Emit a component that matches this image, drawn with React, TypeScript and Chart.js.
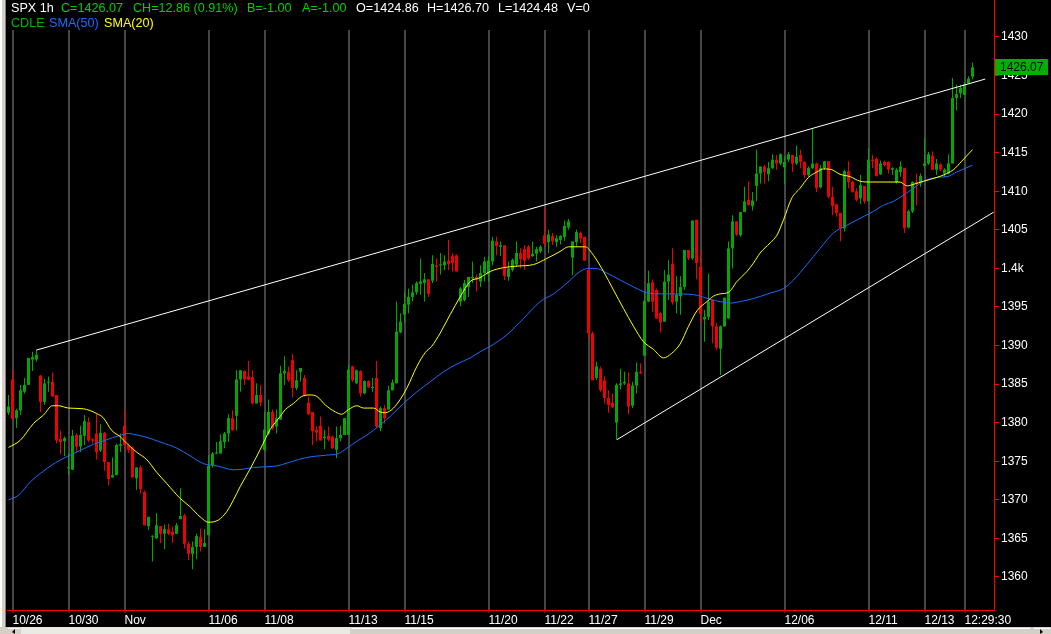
import { useEffect, useRef } from 'react';
import { Chart, registerables } from 'chart.js';

Chart.register(...registerables);

// ---------- DATA ----------
const symbol = 'SPX 1h';
const changeValue = 12.86;
const changePct = 0.91;
const bidValue = -1.0;
const askValue = -1.0;
const volumeValue = 0;

const opens = [
  1381.3, 1385.6, 1380.6, 1381.6, 1384.0, 1384.9, 1388.2, 1388.2, 1386.1, 1382.7,
  1385.2, 1385.3, 1383.6, 1377.9, 1377.6, 1374.1, 1373.9, 1378.4, 1376.9, 1378.3,
  1380.1, 1377.8, 1378.6, 1376.4, 1378.7, 1374.9, 1372.9, 1373.2, 1377.0, 1379.6,
  1377.1, 1376.8, 1372.8, 1374.2, 1371.0, 1366.6, 1365.2, 1365.0, 1366.6, 1365.6,
  1366.2, 1365.9, 1365.6, 1367.5, 1368.0, 1364.3, 1363.0, 1363.9, 1365.2, 1363.9,
  1365.4, 1374.5, 1376.0, 1376.0, 1377.5, 1378.6, 1380.6, 1380.9, 1385.6, 1386.7,
  1386.0, 1385.9, 1382.5, 1383.6, 1376.5, 1378.6, 1381.4, 1379.5, 1380.4, 1386.4,
  1386.6, 1388.1, 1384.5, 1386.6, 1385.8, 1382.6, 1381.4, 1379.1, 1379.6, 1378.0,
  1378.3, 1378.2, 1376.5, 1378.0, 1378.4, 1378.4, 1387.3, 1385.1, 1386.7, 1383.8,
  1385.4, 1384.5, 1385.8, 1379.3, 1381.9, 1381.7, 1384.2, 1385.1, 1391.7, 1394.0,
  1395.3, 1396.3, 1396.9, 1398.0, 1398.1, 1398.6, 1398.4, 1400.4, 1400.4, 1400.4,
  1401.0, 1401.6, 1401.7, 1395.7, 1395.9, 1397.6, 1398.7, 1398.9, 1398.3, 1399.4,
  1399.2, 1400.9, 1403.5, 1402.8, 1403.0, 1398.9, 1399.8, 1400.5, 1402.0, 1402.5,
  1402.8, 1401.6, 1401.9, 1402.2, 1404.3, 1403.4, 1404.2, 1403.4, 1403.7, 1404.1,
  1405.3, 1401.4, 1403.4, 1404.6, 1404.1, 1399.8, 1391.6, 1385.8, 1387.0, 1385.5,
  1383.2, 1382.6, 1380.0, 1384.9, 1385.1, 1385.1, 1382.2, 1384.8, 1386.6, 1388.7,
  1395.7, 1398.2, 1397.2, 1394.2, 1393.1, 1398.3, 1400.6, 1395.7, 1396.4, 1397.6,
  1402.4, 1401.3, 1406.3, 1400.2, 1393.4, 1393.7, 1395.9, 1392.5, 1389.6, 1392.5,
  1393.5, 1402.6, 1406.1, 1404.3, 1407.3, 1408.9, 1408.1, 1410.7, 1412.3, 1413.2,
  1412.2, 1413.0, 1414.1, 1413.6, 1413.1, 1414.1, 1414.7, 1413.6, 1414.7, 1413.8,
  1412.1, 1413.0, 1413.6, 1410.5, 1413.0, 1413.9, 1409.3, 1408.3, 1407.2, 1405.2,
  1412.6, 1411.2, 1410.0, 1409.1, 1410.7, 1408.7, 1414.1, 1414.2, 1412.2, 1413.8,
  1413.8, 1412.8, 1411.2, 1412.5, 1413.0, 1405.3, 1407.4, 1411.2, 1411.0, 1413.3,
  1413.6, 1414.6, 1412.8, 1413.5, 1412.3, 1412.3, 1413.6, 1422.1, 1422.7, 1422.5,
  1424.0, 1424.86,
];

const highs = [
  1383.6, 1386.9, 1381.8, 1384.9, 1385.8, 1388.4, 1389.2, 1389.3, 1386.2, 1385.7,
  1386.0, 1386.5, 1383.6, 1379.0, 1378.2, 1376.0, 1379.1, 1378.6, 1379.6, 1381.0,
  1380.7, 1378.0, 1381.2, 1379.8, 1378.8, 1374.9, 1375.5, 1377.3, 1378.6, 1381.7,
  1377.3, 1376.9, 1374.2, 1374.5, 1371.2, 1367.8, 1365.4, 1368.3, 1366.6, 1366.8,
  1366.9, 1366.5, 1367.0, 1371.5, 1368.2, 1364.6, 1364.6, 1365.6, 1366.3, 1366.2,
  1375.8, 1376.2, 1377.5, 1378.5, 1378.8, 1381.1, 1381.6, 1386.8, 1386.8, 1386.8,
  1388.0, 1386.8, 1385.1, 1384.9, 1381.4, 1383.0, 1381.7, 1381.7, 1387.4, 1388.6,
  1387.3, 1388.9, 1386.8, 1387.1, 1386.2, 1383.4, 1381.4, 1379.5, 1380.8, 1379.1,
  1379.5, 1378.3, 1379.5, 1379.6, 1380.6, 1387.5, 1387.4, 1386.9, 1386.8, 1385.5,
  1385.5, 1385.8, 1388.0, 1382.1, 1382.3, 1384.8, 1385.6, 1395.7, 1394.2, 1397.0,
  1397.4, 1397.9, 1398.3, 1401.3, 1399.4, 1398.6, 1401.7, 1401.3, 1402.0, 1401.7,
  1403.7, 1402.0, 1401.8, 1397.6, 1398.5, 1398.9, 1400.9, 1399.2, 1400.4, 1401.5,
  1401.6, 1404.1, 1404.1, 1403.5, 1403.0, 1400.9, 1401.3, 1403.5, 1402.6, 1403.0,
  1403.0, 1403.5, 1402.8, 1403.0, 1407.8, 1405.0, 1404.6, 1404.3, 1404.3, 1406.2,
  1406.4, 1403.5, 1405.0, 1404.8, 1404.1, 1400.0, 1391.8, 1387.9, 1387.3, 1386.0,
  1384.2, 1383.8, 1385.1, 1387.0, 1386.6, 1386.5, 1385.3, 1387.8, 1387.7, 1397.0,
  1399.7, 1398.6, 1397.4, 1394.4, 1399.8, 1401.1, 1402.6, 1399.0, 1399.0, 1402.4,
  1402.4, 1406.2, 1406.3, 1402.4, 1394.6, 1399.3, 1396.0, 1392.9, 1392.6, 1396.2,
  1403.5, 1406.9, 1406.1, 1407.3, 1410.6, 1411.3, 1409.9, 1415.4, 1413.2, 1413.4,
  1413.8, 1414.8, 1414.7, 1414.9, 1414.5, 1415.1, 1414.7, 1415.9, 1415.4, 1413.9,
  1413.2, 1418.2, 1413.7, 1413.4, 1413.9, 1413.9, 1410.6, 1408.4, 1407.2, 1412.8,
  1413.9, 1411.4, 1410.4, 1412.1, 1410.7, 1415.6, 1414.7, 1414.4, 1414.0, 1414.0,
  1413.9, 1413.1, 1413.0, 1413.9, 1413.0, 1407.6, 1411.3, 1412.3, 1412.3, 1416.9,
  1415.1, 1415.2, 1414.2, 1413.6, 1413.0, 1414.8, 1424.7, 1423.8, 1423.8, 1424.2,
  1424.9, 1426.7,
];

const lows = [
  1381.0, 1380.4, 1379.3, 1381.0, 1383.8, 1384.9, 1386.7, 1387.9, 1381.4, 1382.3,
  1384.0, 1383.4, 1377.3, 1375.9, 1375.7, 1373.2, 1373.9, 1376.2, 1376.2, 1377.1,
  1377.5, 1377.3, 1375.2, 1376.2, 1373.8, 1371.9, 1372.9, 1373.2, 1376.2, 1376.4,
  1376.1, 1372.9, 1371.3, 1370.8, 1366.7, 1366.1, 1362.0, 1365.0, 1364.4, 1363.6,
  1365.4, 1364.4, 1365.6, 1367.5, 1363.7, 1362.2, 1361.0, 1362.3, 1363.3, 1363.9,
  1365.4, 1374.2, 1375.9, 1376.0, 1376.7, 1377.5, 1379.0, 1379.0, 1384.0, 1384.9,
  1385.5, 1382.4, 1382.5, 1382.1, 1376.3, 1378.4, 1379.1, 1378.6, 1380.4, 1384.9,
  1385.3, 1383.3, 1384.2, 1385.3, 1383.4, 1381.0, 1377.1, 1377.6, 1377.7, 1376.6,
  1377.6, 1376.6, 1375.4, 1377.6, 1378.4, 1378.4, 1385.3, 1385.0, 1383.4, 1383.7,
  1384.5, 1384.0, 1379.3, 1378.9, 1379.9, 1381.7, 1384.2, 1385.1, 1391.6, 1392.9,
  1394.2, 1395.7, 1396.6, 1396.6, 1395.7, 1396.3, 1398.1, 1398.3, 1399.2, 1399.8,
  1399.8, 1399.6, 1399.6, 1395.1, 1395.7, 1396.3, 1398.1, 1397.0, 1397.6, 1398.3,
  1398.3, 1400.4, 1401.7, 1401.6, 1398.5, 1398.4, 1399.6, 1400.2, 1400.0, 1399.8,
  1401.1, 1401.5, 1400.9, 1402.0, 1402.8, 1402.0, 1403.0, 1402.8, 1403.1, 1403.6,
  1405.0, 1399.1, 1402.8, 1403.3, 1401.0, 1390.7, 1385.5, 1385.5, 1384.0, 1382.5,
  1381.3, 1381.9, 1377.8, 1384.3, 1384.9, 1381.1, 1381.9, 1383.8, 1386.3, 1388.7,
  1395.6, 1394.4, 1393.5, 1391.7, 1393.1, 1395.9, 1395.3, 1394.2, 1394.0, 1397.2,
  1401.1, 1401.1, 1398.6, 1392.9, 1390.5, 1393.3, 1390.3, 1389.4, 1386.2, 1392.4,
  1393.5, 1400.0, 1404.2, 1404.1, 1407.3, 1408.2, 1407.5, 1408.7, 1411.0, 1411.0,
  1411.3, 1412.9, 1412.8, 1413.4, 1410.9, 1413.8, 1412.5, 1413.4, 1413.0, 1411.7,
  1411.9, 1412.9, 1409.9, 1410.4, 1412.8, 1409.1, 1406.9, 1406.7, 1403.5, 1404.8,
  1410.4, 1409.8, 1408.7, 1408.4, 1408.4, 1408.7, 1413.0, 1411.9, 1412.1, 1413.2,
  1412.3, 1412.1, 1411.0, 1411.9, 1404.6, 1405.2, 1407.2, 1408.2, 1410.6, 1413.1,
  1413.4, 1412.8, 1412.1, 1412.6, 1411.9, 1412.2, 1413.6, 1420.5, 1422.1, 1422.5,
  1423.9, 1424.48,
];

const closes = [
  1382.1, 1380.5, 1381.6, 1384.2, 1384.9, 1388.4, 1388.5, 1388.8, 1382.7, 1385.1,
  1385.3, 1383.4, 1377.7, 1377.5, 1378.0, 1374.2, 1378.3, 1376.9, 1378.4, 1380.2,
  1377.7, 1377.7, 1376.2, 1378.7, 1374.9, 1372.7, 1373.2, 1377.1, 1377.2, 1377.1,
  1376.5, 1372.9, 1374.2, 1371.4, 1366.7, 1367.8, 1365.3, 1366.7, 1365.6, 1366.2,
  1365.6, 1365.4, 1366.7, 1367.9, 1364.3, 1363.0, 1363.9, 1365.3, 1363.9, 1364.4,
  1374.4, 1376.0, 1376.1, 1377.6, 1378.6, 1380.6, 1379.0, 1385.6, 1386.8, 1385.6,
  1385.6, 1382.5, 1383.6, 1382.6, 1379.1, 1381.4, 1379.3, 1380.6, 1386.4, 1386.7,
  1385.5, 1384.5, 1385.5, 1387.1, 1383.5, 1381.1, 1378.9, 1378.7, 1377.7, 1378.2,
  1377.8, 1376.7, 1378.0, 1378.4, 1380.6, 1386.9, 1385.5, 1386.8, 1383.8, 1385.4,
  1384.6, 1384.6, 1379.5, 1381.9, 1380.6, 1384.2, 1385.2, 1391.8, 1393.1, 1395.4,
  1396.3, 1396.9, 1398.1, 1398.3, 1398.6, 1396.7, 1400.6, 1400.2, 1400.5, 1400.9,
  1400.6, 1400.7, 1399.6, 1397.4, 1398.1, 1398.9, 1398.9, 1398.5, 1399.4, 1400.9,
  1401.0, 1403.6, 1402.9, 1403.0, 1399.0, 1400.0, 1401.1, 1402.0, 1401.2, 1401.0,
  1401.3, 1401.9, 1402.5, 1402.8, 1403.2, 1404.4, 1403.5, 1403.9, 1404.2, 1405.5,
  1406.1, 1403.5, 1404.7, 1403.9, 1401.0, 1391.6, 1385.5, 1387.3, 1384.2, 1383.2,
  1382.3, 1382.0, 1384.9, 1385.1, 1385.3, 1382.1, 1384.8, 1386.6, 1386.4, 1395.8,
  1398.1, 1395.7, 1393.5, 1393.0, 1398.3, 1399.2, 1395.6, 1396.6, 1397.6, 1402.4,
  1401.3, 1406.2, 1400.7, 1394.1, 1393.7, 1395.7, 1392.5, 1389.7, 1392.5, 1396.2,
  1402.6, 1406.1, 1404.4, 1407.3, 1408.7, 1408.2, 1408.8, 1412.3, 1413.2, 1412.5,
  1413.0, 1414.1, 1413.6, 1414.8, 1413.8, 1414.8, 1413.6, 1414.5, 1413.8, 1412.1,
  1413.0, 1413.6, 1410.4, 1413.0, 1413.9, 1409.3, 1408.1, 1407.2, 1405.2, 1412.6,
  1411.2, 1409.9, 1408.9, 1410.8, 1408.7, 1414.1, 1413.9, 1412.0, 1413.6, 1413.4,
  1412.8, 1413.0, 1412.8, 1413.2, 1405.2, 1407.4, 1411.2, 1411.0, 1412.0, 1413.6,
  1414.8, 1412.8, 1413.6, 1412.8, 1412.8, 1413.6, 1422.1, 1422.6, 1423.4, 1423.9,
  1424.6, 1426.07,
];

// SMA(20) (bar position, value)
const sma20X = [
  0, 2.9, 6.25, 8.75, 11, 12.5, 15, 18.75, 22, 23.75,
  25.8, 27.9, 30, 32, 34.6, 37, 39.6, 42.9, 45.4, 47.9,
  50, 52.5, 54.6, 56.25, 57.9, 60.4, 62.9, 65.4, 67.9, 69.2,
  71.25, 73.3, 75.4, 77.1, 79.2, 81.7, 83.3, 85, 87.1, 88.75,
  91.25, 92.9, 94.2, 96.25, 97.9, 99.6, 102.1, 104.2, 105.8, 107.9,
  110.4, 112.9, 115.4, 117.9, 120.4, 123.75, 127.1, 131.25, 134.6, 137.9,
  140, 142.1, 144.2, 146.25, 148.75, 151.25, 153.75, 156.25, 158.75, 161.25,
  163.75, 165.8, 167.9, 170, 172.1, 174.6, 176.25, 177.9, 180, 182.1,
  184.6, 186.25, 187.9, 190.4, 192.1, 193.75, 195.8, 197.9, 200, 202.1,
  203.75, 205.8, 207.9, 210.4, 212.9, 215.4, 219.6, 222.9, 224.6, 226.25,
  228.75, 232.1, 234.6, 236.25, 238.3, 241,
];
const sma20Y = [
  1376.8, 1377.7, 1379.9, 1381.0, 1382.2, 1382.2, 1381.9, 1381.8, 1381.2, 1380.6,
  1379.0, 1378.2, 1377.1, 1376.2, 1375.2, 1373.6, 1372.1, 1370.2, 1369.1, 1367.8,
  1367.1, 1367.4, 1368.5, 1370.0, 1371.7, 1374.0, 1376.5, 1379.1, 1380.8, 1381.7,
  1382.5, 1383.4, 1383.6, 1383.4, 1382.3, 1381.4, 1381.1, 1381.7, 1382.2, 1381.9,
  1381.9, 1381.4, 1381.3, 1381.9, 1383.0, 1384.5, 1387.3, 1389.1, 1389.9, 1391.6,
  1394.0, 1396.3, 1398.3, 1398.8, 1399.6, 1400.1, 1400.3, 1400.5, 1401.3, 1402.2,
  1402.8, 1402.8, 1402.8, 1401.7, 1399.6, 1397.2, 1394.8, 1392.5, 1390.5, 1389.5,
  1388.4, 1389.0, 1390.2, 1392.5, 1394.5, 1395.7, 1396.4, 1396.7, 1396.9, 1398.3,
  1399.6, 1400.7, 1402.0, 1403.3, 1404.3, 1406.3, 1409.1, 1410.4, 1411.8, 1412.5,
  1412.9, 1412.8, 1412.2, 1411.9, 1411.3, 1411.2, 1411.2, 1411.2, 1410.7, 1410.9,
  1411.3, 1411.8, 1412.3, 1412.8, 1413.9, 1415.4,
];

// SMA(50) (bar position, value)
const sma50X = [
  0, 2.5, 5.4, 7.9, 11.7, 14.6, 17.9, 21.25, 24.6, 27.5,
  30, 31.25, 34.6, 37.9, 42.1, 45.4, 48.75, 52.1, 56.25, 59,
  61.25, 67.1, 70.4, 74.6, 79.6, 82.5, 84.6, 87.1, 89.6, 92.9,
  95.4, 98.75, 102.1, 105.4, 108.75, 112.1, 115.4, 117.9, 120.4, 124.6,
  128.75, 132.9, 136.25, 139.6, 142.9, 145, 146.7, 149.6, 152.9, 156.25,
  158.75, 162.1, 166.25, 171.25, 175.4, 177.9, 180.4, 182.9, 186.25, 190.4,
  193.75, 196.25, 199.6, 202.9, 206.25, 209.6, 212.9, 216.25, 218.75, 221.25,
  223.75, 226.25, 228.75, 232.1, 234.6, 237.1, 241,
];
const sma50Y = [
  1370.0, 1370.6, 1372.3, 1373.4, 1374.8, 1375.6, 1376.4, 1377.2, 1377.8, 1378.3,
  1378.6, 1378.5, 1378.1, 1377.5, 1376.7, 1375.7, 1374.7, 1374.4, 1373.9, 1374.0,
  1374.2, 1374.4, 1374.9, 1375.5, 1375.8, 1376.0, 1376.7, 1377.6, 1378.4, 1379.7,
  1380.8, 1382.5, 1384.0, 1385.3, 1386.6, 1387.6, 1388.4, 1389.2, 1389.9, 1391.4,
  1393.5, 1395.7, 1396.7, 1398.1, 1399.6, 1400.0, 1400.0, 1399.4, 1398.5, 1397.6,
  1397.0, 1396.7, 1396.7, 1396.6, 1396.0, 1395.7, 1395.5, 1395.7, 1396.1, 1396.8,
  1397.4, 1398.5, 1400.5, 1402.6, 1404.6, 1405.6, 1406.5, 1407.4, 1408.2, 1408.7,
  1409.5, 1410.4, 1411.3, 1411.8, 1411.9, 1412.5, 1413.4,
];

// Trend lines (bar position, price)
const upperTrendX = [6.9, 244.2];
const upperTrendY = [1389.4, 1424.55];
const lowerTrendX = [152.1, 246.3];
const lowerTrendY = [1377.8, 1407.3];

// Axis ticks
const gridIdx = [1, 15, 29, 50, 64, 85, 99, 120, 134, 145, 159, 173, 194, 215, 229, 239];
const dateLabels = ['10/26', '10/30', 'Nov', '11/06', '11/08', '11/13', '11/15', '11/20', '11/22', '11/27', '11/29', 'Dec', '12/06', '12/11', '12/13', '12:29:30'];
const priceTicks = [1360, 1365, 1370, 1375, 1380, 1385, 1390, 1395, 1400, 1405, 1410, 1415, 1420, 1425, 1430];

// ---------- STYLE ----------
const W = 1051;
const H = 634;
const FONT = '"Liberation Sans", Arial, Helvetica, sans-serif';
const GREEN = '#00a800';
const RED = '#f00000';
const X_MIN = -0.375;
const X_MAX = 246.375;
const Y_MIN = 1355.722;
const Y_MAX = 1430.907;

const chromePlugin = {
  id: 'chrome',
  beforeDraw(chart: any) {
    const { ctx, width, height } = chart;
    ctx.save();
    ctx.fillStyle = '#000';
    ctx.fillRect(0, 0, width, height);
    ctx.restore();
  },
  afterDraw(chart: any) {
    const { ctx, chartArea: ca } = chart;
    const last = closes.length - 1;
    ctx.save();
    // red axis line above the plot area
    ctx.strokeStyle = '#ff0000';
    ctx.lineWidth = 1;
    ctx.beginPath();
    ctx.moveTo(Math.round(ca.right) + 0.5, 0);
    ctx.lineTo(Math.round(ca.right) + 0.5, ca.top);
    ctx.stroke();

    // header
    ctx.font = `12.6px ${FONT}`;
    ctx.textBaseline = 'alphabetic';
    ctx.textAlign = 'left';
    const hg = '#00d000';
    const hw = '#ffffff';
    const line1 = [
      { t: symbol, x: 11, c: hw },
      { t: `C=${closes[last].toFixed(2)}`, x: 61, c: hg },
      { t: `CH=${changeValue.toFixed(2)} (${changePct.toFixed(2)}%)`, x: 133, c: hg },
      { t: `B=${bidValue.toFixed(2)}`, x: 247, c: hg },
      { t: `A=${askValue.toFixed(2)}`, x: 302, c: hg },
      { t: `O=${opens[last].toFixed(2)}`, x: 356, c: hw },
      { t: `H=${highs[last].toFixed(2)}`, x: 427, c: hw },
      { t: `L=${lows[last].toFixed(2)}`, x: 498, c: hw },
      { t: `V=${volumeValue}`, x: 567, c: hw },
    ];
    line1.forEach((p) => {
      ctx.fillStyle = p.c;
      ctx.fillText(p.t, p.x, 12);
    });
    const line2 = [
      { t: 'CDLE', x: 11, c: '#00b400' },
      { t: 'SMA(50)', x: 49, c: '#1a6cff' },
      { t: 'SMA(20)', x: 104, c: '#ffff00' },
    ];
    line2.forEach((p) => {
      ctx.fillStyle = p.c;
      ctx.fillText(p.t, p.x, 27);
    });

    // last price box
    const yScale = chart.scales.y;
    const py = Math.round(yScale.getPixelForValue(closes[last]));
    ctx.font = `12px ${FONT}`;
    ctx.fillStyle = '#00b000';
    ctx.fillRect(Math.round(ca.right) + 1, py - 8, 53, 16);
    ctx.fillStyle = '#000';
    ctx.textBaseline = 'middle';
    ctx.fillText(closes[last].toFixed(2), Math.round(ca.right) + 6, py + 1);

    // left window border
    ctx.fillStyle = '#ffffff';
    ctx.fillRect(0, 0, 2, H);
    ctx.fillStyle = '#d4d0c8';
    ctx.fillRect(2, 0, 3, H);
    ctx.fillStyle = '#808080';
    ctx.fillRect(5, 0, 1, H);

    // bottom scrollbar
    const sy = 627;
    ctx.fillStyle = '#d4d0c8';
    ctx.fillRect(0, sy, W, H - sy);
    ctx.fillStyle = '#ebe9e4';
    ctx.fillRect(21, sy, 329, H - sy);
    ctx.fillStyle = '#d4d0c8';
    ctx.fillRect(350, sy, 681, H - sy);
    ctx.fillStyle = '#ffffff';
    ctx.fillRect(351, sy + 1, 679, 1);
    ctx.fillRect(8, sy + 1, 12, 1);
    ctx.fillRect(1034, sy + 1, 16, 1);
    ctx.fillStyle = '#000';
    ctx.beginPath();
    ctx.moveTo(12, H - 2);
    ctx.lineTo(15, H - 5);
    ctx.lineTo(15, H);
    ctx.fill();
    ctx.beginPath();
    ctx.moveTo(1043, H - 2);
    ctx.lineTo(1040, H - 5);
    ctx.lineTo(1040, H);
    ctx.fill();
    ctx.restore();
  },
};

export default function App() {
  const ref = useRef<HTMLCanvasElement | null>(null);

  useEffect(() => {
    document.body.style.margin = '0';
    document.body.style.background = '#000';
    const canvas = ref.current;
    if (!canvas) return;

    const colors = closes.map((c, i) => (c >= opens[i] ? GREEN : RED));
    const bodyData = opens.map((o, i) => ({ x: i, y: [o, closes[i]] }));
    const wickData = highs.map((h, i) => ({ x: i, y: [lows[i], h] }));
    const sma20 = sma20X.map((x, i) => ({ x, y: sma20Y[i] }));
    const sma50 = sma50X.map((x, i) => ({ x, y: sma50Y[i] }));
    const upper = upperTrendX.map((x, i) => ({ x, y: upperTrendY[i] }));
    const lower = lowerTrendX.map((x, i) => ({ x, y: lowerTrendY[i] }));

    const lineBase = { pointRadius: 0, borderWidth: 1, fill: false };

    const chart = new Chart(canvas, {
      type: 'bar',
      data: {
        datasets: [
          { type: 'line', data: upper, borderColor: '#ffffff', ...lineBase } as any,
          { type: 'line', data: lower, borderColor: '#ffffff', ...lineBase } as any,
          { type: 'line', data: sma20, borderColor: '#ffff00', cubicInterpolationMode: 'monotone', ...lineBase } as any,
          { type: 'line', data: sma50, borderColor: '#1a6cff', cubicInterpolationMode: 'monotone', ...lineBase } as any,
          {
            type: 'bar',
            data: bodyData,
            backgroundColor: colors,
            barThickness: 3,
            grouped: false,
            minBarLength: 1,
            inflateAmount: 0,
            borderWidth: 0,
          } as any,
          {
            type: 'bar',
            data: wickData,
            backgroundColor: colors,
            barThickness: 1,
            grouped: false,
            minBarLength: 1,
            inflateAmount: 0,
            borderWidth: 0,
          } as any,
        ],
      },
      options: {
        responsive: false,
        animation: false,
        devicePixelRatio: 1,
        events: [],
        layout: { padding: { left: 7, top: 30, right: 0, bottom: 0 } },
        plugins: {
          legend: { display: false },
          tooltip: { enabled: false },
          title: { display: false },
        },
        scales: {
          x: {
            type: 'linear',
            position: 'bottom',
            min: X_MIN,
            max: X_MAX,
            offset: false,
            afterBuildTicks: (s: any) => {
              s.ticks = gridIdx.map((v) => ({ value: v }));
            },
            afterFit: (s: any) => {
              s.height = 24;
            },
            grid: {
              display: true,
              drawOnChartArea: true,
              drawTicks: true,
              color: '#464646',
              lineWidth: 2,
              tickColor: '#ff0000',
              tickWidth: 1,
              tickLength: 3,
              offset: false,
            },
            border: { display: true, color: '#ff0000', width: 1 },
            ticks: {
              color: '#ffffff',
              font: { family: FONT, size: 12 },
              autoSkip: false,
              maxRotation: 0,
              minRotation: 0,
              align: 'start',
              padding: 0,
              callback: (v: any) => {
                const k = gridIdx.indexOf(Number(v));
                return k >= 0 ? dateLabels[k] : '';
              },
            },
          } as any,
          y: {
            type: 'linear',
            position: 'right',
            min: Y_MIN,
            max: Y_MAX,
            afterBuildTicks: (s: any) => {
              s.ticks = priceTicks.map((v) => ({ value: v }));
            },
            afterFit: (s: any) => {
              s.width = 57;
            },
            grid: {
              drawOnChartArea: false,
              drawTicks: true,
              tickLength: 5,
              color: '#ff0000',
              tickWidth: 1,
            },
            border: { display: true, color: '#ff0000', width: 1 },
            ticks: {
              color: '#ffffff',
              font: { family: FONT, size: 12 },
              padding: 2,
              autoSkip: false,
              callback: (v: any) => (Number(v) === 1400 ? '1.4k' : String(v)),
            },
          } as any,
        },
      },
      plugins: [chromePlugin],
    });

    return () => chart.destroy();
  }, []);

  return (
    <canvas
      ref={ref}
      width={W}
      height={H}
      style={{ display: 'block', width: W, height: H }}
    />
  );
}
